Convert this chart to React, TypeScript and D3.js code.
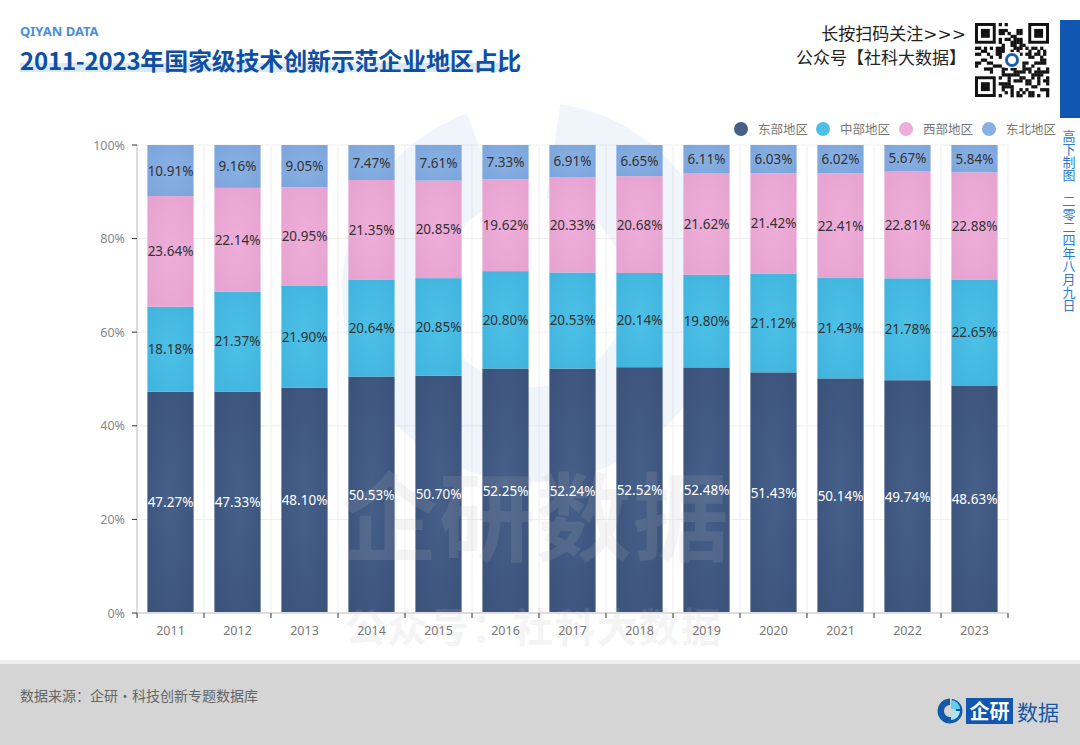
import React from "react";
import * as d3 from "d3";

const years = ["2011","2012","2013","2014","2015","2016","2017","2018","2019","2020","2021","2022","2023"];
const east = [47.27,47.33,48.10,50.53,50.70,52.25,52.24,52.52,52.48,51.43,50.14,49.74,48.63];
const central = [18.18,21.37,21.90,20.64,20.85,20.80,20.53,20.14,19.80,21.12,21.43,21.78,22.65];
const west = [23.64,22.14,20.95,21.35,20.85,19.62,20.33,20.68,21.62,21.42,22.41,22.81,22.88];
const northeast = [10.91,9.16,9.05,7.47,7.61,7.33,6.91,6.65,6.11,6.03,6.02,5.67,5.84];
const seriesNames = ["东部地区","中部地区","西部地区","东北地区"];
const yTicks = [0,20,40,60,80,100];

const colors = ["#46608a","#4cc0e6","#eeaed9","#88b0e3"];
const edgeColors = ["#3b527a","#40b4dd","#e6a2d0","#7ca5dc"];
const labelColors = ["#ffffff","#333333","#333333","#333333"];

const W = 1080, H = 745;
const left = 137, right = 1008, top = 145, bottom = 613;

export default function App() {
  const x = d3.scaleBand<string>().domain(years).range([left, right]).paddingInner(0.31).paddingOuter(0.155);
  const y = d3.scaleLinear().domain([0, 100]).range([bottom, top]);
  const series = [east, central, west, northeast];
  const rows = years.map((yr, i) => ({ year: yr, s0: east[i], s1: central[i], s2: west[i], s3: northeast[i] }));
  const stack = d3.stack<any>().keys(["s0","s1","s2","s3"])(rows);
  const step = x.step();
  const bounds = d3.range(years.length + 1).map(k => left + k * step);

  const legendX = [741, 823, 906, 989];

  const font = "'Noto Sans', 'Open Sans', 'Noto Sans CJK SC', sans-serif";
  const cjk = "'Noto Sans CJK SC', sans-serif";
  const serif = "'DejaVu Serif', 'Liberation Serif', 'Noto Sans CJK SC', serif";

  // decorative qr pattern
  const qrCells: JSX.Element[] = [];
  const qn = 25, qs = 74 / qn, qx = 975, qy = 23;
  for (let r = 0; r < qn; r++) {
    for (let c = 0; c < qn; c++) {
      const inFinder = (r < 8 && c < 8) || (r < 8 && c >= qn - 8) || (r >= qn - 8 && c < 8);
      if (inFinder) continue;
      const v = ((r * 7 + c * 13 + r * c * 3) ^ (r * 5 + c)) % 5;
      if (v < 2) qrCells.push(<rect key={`q${r}-${c}`} x={qx + c * qs} y={qy + r * qs} width={qs + 0.3} height={qs + 0.3} fill="#111" />);
    }
  }
  const finder = (fx: number, fy: number, k: string) => (
    <g key={k}>
      <rect x={fx} y={fy} width={7 * qs} height={7 * qs} fill="#111" />
      <rect x={fx + qs} y={fy + qs} width={5 * qs} height={5 * qs} fill="#fff" />
      <rect x={fx + 2 * qs} y={fy + 2 * qs} width={3 * qs} height={3 * qs} fill="#111" />
    </g>
  );

  return (
    <svg width={W} height={H} style={{ position: "absolute", left: 0, top: 0, background: "#fff" }}>
      <defs>
        {colors.map((c, i) => (
          <radialGradient key={i} id={`g${i}`} cx="0.5" cy="0.5" r="0.7">
            <stop offset="0%" stopColor={c} />
            <stop offset="100%" stopColor={edgeColors[i]} />
          </radialGradient>
        ))}
      </defs>
      <rect x={0} y={0} width={W} height={H} fill="#fff" />

      {/* header */}
      <text x={20} y={36} fontFamily={font} fontWeight={700} fontSize={13} fill="#4a8fd8">QIYAN DATA</text>
      <rect x={20} y={63} width={486} height={9} fill="#d9e8f6" />
      <text x={20} y={70} fontFamily={cjk} fontWeight={700} fontSize={24} fill="#0f4fa3" letterSpacing={-0.2}>2011-2023年国家级技术创新示范企业地区占比</text>

      <text x={966} y={40} textAnchor="end" fontFamily={serif} fontSize={17} fill="#222">长按扫码关注&gt;&gt;&gt;</text>
      <text x={966} y={64} textAnchor="end" fontFamily={serif} fontSize={17} fill="#222">公众号【社科大数据】</text>
      {qrCells}
      {finder(qx, qy, "f1")}
      {finder(qx + (qn - 7) * qs, qy, "f2")}
      {finder(qx, qy + (qn - 7) * qs, "f3")}
      <rect x={qx + 29} y={qy + 29} width={16} height={16} rx={2} fill="#fff" />
      <circle cx={qx + 37} cy={qy + 37} r={5.5} fill="none" stroke="#1a5fb4" strokeWidth={3} />
      <rect x={1060} y={20} width={20} height={98} fill="#0f57b0" />

      {/* vertical text */}
      <text x={1069} y={130} fontFamily={cjk} fontSize={13} fill="#2f7bd0" style={{ writingMode: "vertical-rl" as any }} textAnchor="start">高下制图　二零二四年八月九日</text>

      {/* legend */}
      {seriesNames.map((n, i) => (
        <g key={n}>
          <circle cx={legendX[i]} cy={129} r={7} fill={colors[i]} />
          <text x={legendX[i] + 17} y={133.5} fontFamily={cjk} fontSize={12.5} fill="#777">{n}</text>
        </g>
      ))}

      {/* grid */}
      {yTicks.map(t => (
        <line key={`h${t}`} x1={left} x2={right} y1={y(t)} y2={y(t)} stroke="#eeeeee" strokeWidth={1} />
      ))}
      {bounds.slice(1).map((b, k) => (
        <line key={`v${k}`} x1={b} x2={b} y1={top} y2={bottom} stroke="#eeeeee" strokeWidth={1} />
      ))}

      {/* watermark circle */}
      <g opacity={0.08}>
        <path d={d3.arc()({ innerRadius: 95, outerRadius: 190, startAngle: 0.15, endAngle: Math.PI * 2 - 0.35 }) || ""} transform="translate(532,292)" fill="#4a8fd8" />
      </g>

      {/* bars */}
      {stack.map((layer, si) => (
        <g key={si}>
          {layer.map((d, i) => (
            <rect key={i} x={x(years[i])} y={y(d[1])} width={x.bandwidth()} height={y(d[0]) - y(d[1])} fill={`url(#g${si})`} />
          ))}
        </g>
      ))}

      {/* watermark text */}
      <g opacity={0.15} fill="#b8b8b8" fontFamily={cjk} fontWeight={700}>
        <text x={342} y={553} fontSize={96} letterSpacing={1}>企研数据</text>
        <text x={345} y={642} fontSize={40} letterSpacing={2}>公众号：社科大数据</text>
      </g>

      {stack.map((layer, si) => (
        <g key={`l${si}`}>
          {layer.map((d, i) => (
            <text key={i} x={(x(years[i]) || 0) + x.bandwidth() / 2} y={(y(d[0]) + y(d[1])) / 2 + 5} textAnchor="middle" fontFamily={font} fontSize={13.5} fill={labelColors[si]}>
              {series[si][i].toFixed(2)}%
            </text>
          ))}
        </g>
      ))}

      {/* axes */}
      <line x1={left} x2={left} y1={top} y2={bottom} stroke="#dddddd" strokeWidth={2} />
      <line x1={left} x2={right} y1={bottom} y2={bottom} stroke="#dddddd" strokeWidth={2} />
      {yTicks.map(t => (
        <g key={`yt${t}`}>
          <line x1={left - 5} x2={left} y1={y(t)} y2={y(t)} stroke="#333" strokeWidth={1} />
          <text x={left - 12} y={y(t) + 4.5} textAnchor="end" fontFamily={font} fontSize={12.5} fill="#888">{t}%</text>
        </g>
      ))}
      {bounds.map((b, k) => (
        <line key={`xt${k}`} x1={b} x2={b} y1={bottom} y2={bottom + 5} stroke="#333" strokeWidth={1} />
      ))}
      {years.map(yr => (
        <text key={yr} x={(x(yr) || 0) + x.bandwidth() / 2} y={635} textAnchor="middle" fontFamily={font} fontSize={12.5} fill="#777">{yr}</text>
      ))}

      {/* footer */}
      <rect x={0} y={660} width={W} height={5} fill="#f0f0f0" />
      <rect x={0} y={664} width={W} height={81} fill="#d5d5d5" />
      <text x={20} y={701} fontFamily={cjk} fontSize={14} fill="#666">数据来源：企研·科技创新专题数据库</text>
      <g>
        <path d={d3.arc()({ innerRadius: 6, outerRadius: 12.5, startAngle: Math.PI * 0.05, endAngle: Math.PI * 2 })|| ""} transform="translate(950,711)" fill="#1458a8" />
        <path d={d3.arc()({ innerRadius: 0, outerRadius: 9, startAngle: 0, endAngle: Math.PI / 2 })|| ""} transform="translate(951,709)" fill="#5fd0ef" />
        <path d={d3.arc()({ innerRadius: 0, outerRadius: 9, startAngle: Math.PI / 2, endAngle: Math.PI })|| ""} transform="translate(951,711)" fill="#a8e6f5" />
        <rect x={966} y={698} width={47} height={26} fill="#0f57b0" />
        <text x={989.5} y={719} textAnchor="middle" fontFamily={cjk} fontWeight={700} fontSize={20} fill="#fff">企研</text>
        <text x={1017} y={720} fontFamily={cjk} fontSize={21} fill="#1458a8">数据</text>
      </g>
    </svg>
  );
}
